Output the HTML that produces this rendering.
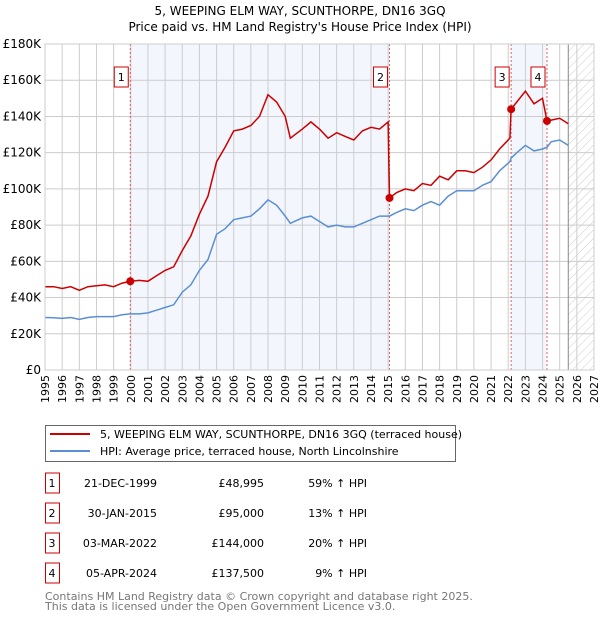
<!DOCTYPE html>
<html><head><meta charset="utf-8"><style>
body{margin:0;background:#fff;font-family:"DejaVu Sans","Liberation Sans",sans-serif;}
svg text{font-family:"DejaVu Sans","Liberation Sans",sans-serif;}
</style></head><body>
<svg id="c" width="600" height="620" xmlns="http://www.w3.org/2000/svg">
<defs><pattern id="hatch" width="6" height="6" patternUnits="userSpaceOnUse" patternTransform="rotate(45)"><line x1="0" y1="0" x2="0" y2="6" stroke="#ccc" stroke-width="1"/></pattern></defs>
<text x="300" y="15" text-anchor="middle" font-size="12">5, WEEPING ELM WAY, SCUNTHORPE, DN16 3GQ</text>
<text x="300" y="31" text-anchor="middle" font-size="12">Price paid vs. HM Land Registry's House Price Index (HPI)</text>
<g id="plot"></g>
<g>
<rect x="45.5" y="425.5" width="410" height="36" fill="#fff" stroke="#666"/>
<line x1="50" y1="434" x2="90" y2="434" stroke="#cc0000" stroke-width="2"/>
<text x="100" y="438" font-size="11">5, WEEPING ELM WAY, SCUNTHORPE, DN16 3GQ (terraced house)</text>
<line x1="50" y1="451" x2="90" y2="451" stroke="#5b8fd4" stroke-width="2"/>
<text x="100" y="455" font-size="11">HPI: Average price, terraced house, North Lincolnshire</text>
</g>
<g id="table"></g>
<text x="45" y="600" font-size="11" fill="#777">Contains HM Land Registry data © Crown copyright and database right 2025.</text>
<text x="45" y="610" font-size="11" fill="#777">This data is licensed under the Open Government Licence v3.0.</text>
</svg>
<script>
const years=[1995,1995.5,1996,1996.5,1997,1997.5,1998,1998.5,1999,1999.5,1999.97,2000.5,2001,2001.5,2002,2002.5,2003,2003.5,2004,2004.5,2005,2005.5,2006,2006.5,2007,2007.5,2008,2008.5,2009,2009.3,2010,2010.5,2011,2011.5,2012,2012.5,2013,2013.5,2014,2014.5,2015.0,2015.08,2015.5,2016,2016.5,2017,2017.5,2018,2018.5,2019,2019.5,2020,2020.5,2021,2021.5,2022.1,2022.17,2022.5,2023,2023.5,2024,2024.26,2024.5,2025,2025.5];
const priceK=[46,46,45,46,44,46,46.5,47,46,48,49,49.5,49,52,55,57,66,74,86,96,115,123,132,133,135,140,152,148,140,128,133,137,133,128,131,129,127,132,134,133,137,95,98,100,99,103,102,107,105,110,110,109,112,116,122,128,144,148,154,147,150,137.5,138,139,136];
const hpiK=[29,28.8,28.5,29,28,29,29.5,29.5,29.5,30.5,31,31,31.5,33,34.5,36,43,47,55,61,75,78,83,84,85,89,94,91,85,81,84,85,82,79,80,79,79,81,83,85,85,85,87,89,88,91,93,91,96,99,99,99,102,104,110,115,117,120,124,121,122,123,126,127,124];
const yTicks=[0,20,40,60,80,100,120,140,160,180];
const xTicks=[1995,1996,1997,1998,1999,2000,2001,2002,2003,2004,2005,2006,2007,2008,2009,2010,2011,2012,2013,2014,2015,2016,2017,2018,2019,2020,2021,2022,2023,2024,2025,2026,2027];
const saleYears=[1999.97,2015.08,2022.17,2024.26];
const salePriceK=[48.995,95,144,137.5];
const saleDates=["21-DEC-1999","30-JAN-2015","03-MAR-2022","05-APR-2024"];
const salePrices=["£48,995","£95,000","£144,000","£137,500"];
const salePct=["59% ↑ HPI","13% ↑ HPI","20% ↑ HPI","9% ↑ HPI"];
const X0=45,X1=594,Y0=370,Y1=44,XMIN=1995,XMAX=2027,YMAX=180,DATA_END=2025.5;
const sx=v=>X0+(v-XMIN)/(XMAX-XMIN)*(X1-X0);
const sy=v=>Y0-v/YMAX*(Y0-Y1);
const NS="http://www.w3.org/2000/svg";
const plot=document.getElementById('plot');
function mk(tag,attrs,parent){const e=document.createElementNS(NS,tag);for(const k in attrs)e.setAttribute(k,attrs[k]);(parent||plot).appendChild(e);return e;}
// shaded regions
let r=mk('rect',{x:sx(saleYears[0]),y:Y1,width:sx(saleYears[1])-sx(saleYears[0]),height:Y0-Y1,fill:'#eef3fc',opacity:0.7});


r=mk('rect',{x:sx(saleYears[2]),y:Y1,width:sx(saleYears[3])-sx(saleYears[2]),height:Y0-Y1,fill:'#eef3fc',opacity:0.7});


r=mk('rect',{x:sx(DATA_END),y:Y1,width:X1-sx(DATA_END),height:Y0-Y1,fill:'url(#hatch)'});


// grid
xTicks.forEach(t=>{const l=mk('line',{x1:sx(t),x2:sx(t),y1:Y1,y2:Y0,stroke:'#ccc'});


const tx=mk('text',{x:0,y:0,'font-size':11,'text-anchor':'end',transform:`translate(${sx(t)+4},${Y0+5}) rotate(-90)`});tx.textContent=t;

});
yTicks.forEach(t=>{const l=mk('line',{x1:X0,x2:X1,y1:sy(t),y2:sy(t),stroke:'#ccc'});


const tx=mk('text',{x:X0-4,y:sy(t)+4,'font-size':12,'text-anchor':'end'});tx.textContent=t===0?'£0':'£'+t+'K';

});
let l=mk('line',{x1:sx(DATA_END),x2:sx(DATA_END),y1:Y1,y2:Y0,stroke:'#888'});


// sale vlines and labels
saleYears.forEach((s,i)=>{const v=mk('line',{x1:sx(s),x2:sx(s),y1:Y1,y2:Y0,stroke:'#e06060','stroke-dasharray':'2,2'});


const b=mk('rect',{x:sx(s)-16,y:67,width:14,height:20,fill:'#fff',stroke:'#cc0000'});


const t=mk('text',{x:sx(s)-9,y:81,'font-size':11,'text-anchor':'middle'});t.textContent=i+1;

});
// series
const hp=mk('path',{d:years.map((y,i)=>(i?'L':'M')+sx(y).toFixed(1)+','+sy(hpiK[i]).toFixed(1)).join(''),fill:'none',stroke:'#5b8fd4','stroke-width':1.5});


const pp=mk('path',{d:years.map((y,i)=>(i?'L':'M')+sx(y).toFixed(1)+','+sy(priceK[i]).toFixed(1)).join(''),fill:'none',stroke:'#cc0000','stroke-width':1.5});


saleYears.forEach((s,i)=>{const c=mk('circle',{cx:sx(s),cy:sy(salePriceK[i]),r:4,fill:'#cc0000'});

});
const fr=mk('rect',{x:X0,y:Y1,width:X1-X0,height:Y0-Y1,fill:'none',stroke:'#ccc'});


// table
const tb=document.getElementById('table');
saleDates.forEach((d,i)=>{const cy=483+i*30;
const b=mk('rect',{x:45.5,y:cy-10,width:14,height:20,fill:'#fff',stroke:'#cc0000'},tb);


const cells=[[52,String(i+1),'middle'],[157,d,'end'],[264,salePrices[i],'end'],[367,salePct[i],'end']];
cells.forEach(c=>{const t=mk('text',{x:c[0],y:cy+4,'font-size':11,'text-anchor':c[2]},tb);t.textContent=c[1];

});});
</script>
</body></html>
